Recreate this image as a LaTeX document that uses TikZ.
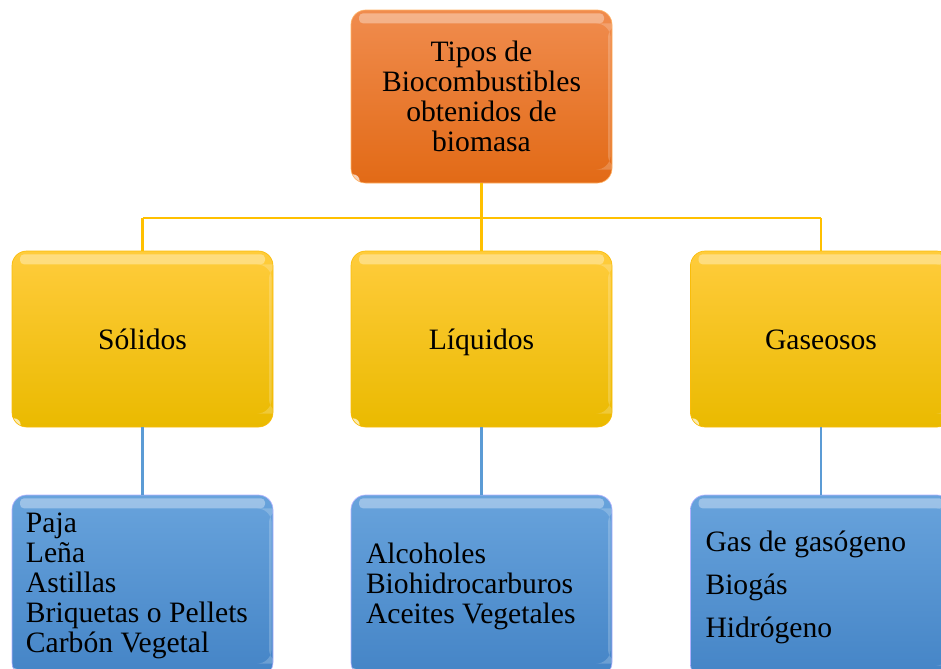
\documentclass[tikz,border=0pt]{standalone}
\usepackage{fontspec}
\setmainfont{Liberation Serif}
\begin{document}
\begin{tikzpicture}[x=0.75pt,y=-0.75pt,
  boxbase/.style={rectangle, rounded corners=11pt, minimum width=195.75pt,
    inner sep=0pt, draw=#1, line width=0.5pt,
    font=\fontsize{22.2pt}{22.5pt}\selectfont,
    path picture={
      \fill[white,opacity=0.35,rounded corners=3pt]
        ([xshift=6pt,yshift=-2.5pt]path picture bounding box.north west) rectangle
        ([xshift=-6pt,yshift=-10pt]path picture bounding box.north east);
      \fill[white,opacity=0.2]
        ([xshift=-3pt,yshift=-10pt]path picture bounding box.north east) rectangle
        ([xshift=-1pt,yshift=10pt]path picture bounding box.south east);
      \fill[white,opacity=0.7]
        ([xshift=1.5pt,yshift=1.5pt]path picture bounding box.south west) circle (5pt);
    }},
  orangebox/.style={boxbase=orange!60!white, minimum height=129.75pt,
    top color={rgb,255:red,240;green,140;blue,78}, bottom color={rgb,255:red,226;green,106;blue,22},
    align=flush center},
  yellowbox/.style={boxbase=yellow!50!orange, minimum height=132pt,
    text height=21pt, text depth=5pt,
    top color={rgb,255:red,255;green,204;blue,60}, bottom color={rgb,255:red,234;green,186;blue,0}},
  bluebox/.style={boxbase=blue!30!white, minimum height=136.5pt,
    top color={rgb,255:red,104;green,163;blue,220}, bottom color={rgb,255:red,68;green,132;blue,198},
    align=flush left, text width=174.75pt},
  goldline/.style={draw={rgb,255:red,255;green,192;blue,0}, line width=2.2pt},
  blueline/.style={draw={rgb,255:red,91;green,155;blue,213}, line width=2.2pt},
]
\useasboundingbox (0,0) rectangle (941,668);

\node[orangebox] (top) at (481.5,96.5) {Tipos de\\Biocombustibles\\obtenidos de\\biomasa};

\node[yellowbox] (sol) at (142.5,339) {Sólidos};
\node[yellowbox] (liq) at (481.5,339) {Líquidos};
\node[yellowbox] (gas) at (821,339) {Gaseosos};

\node[bluebox] (bsol) at (142.5,586) {Paja\\Leña\\Astillas\\Briquetas o Pellets\\Carbón Vegetal};
\node[bluebox, text width=173.25pt] (bliq) at (481.5,586) {Alcoholes\\Biohidrocarburos\\Aceites Vegetales};
\node[bluebox, text width=173.25pt, minimum height=138pt, font=\fontsize{22.2pt}{32.25pt}\selectfont] (bgas) at (821,587) {Gas de gasógeno\\Biogás\\Hidrógeno};

\coordinate (jm) at (481.5,218);
\coordinate (jl) at (142.5,218);
\coordinate (jr) at (821,218);

\draw[goldline] (top.south) -- (jm);
\draw[goldline] (jl) -- (jr);
\draw[goldline] (jl) -- (sol.north);
\draw[goldline] (jm) -- (liq.north);
\draw[goldline] (jr) -- (gas.north);

\draw[blueline] (sol.south) -- (bsol.north);
\draw[blueline] (liq.south) -- (bliq.north);
\draw[blueline] (gas.south) -- (bgas.north);
\end{tikzpicture}
\end{document}
